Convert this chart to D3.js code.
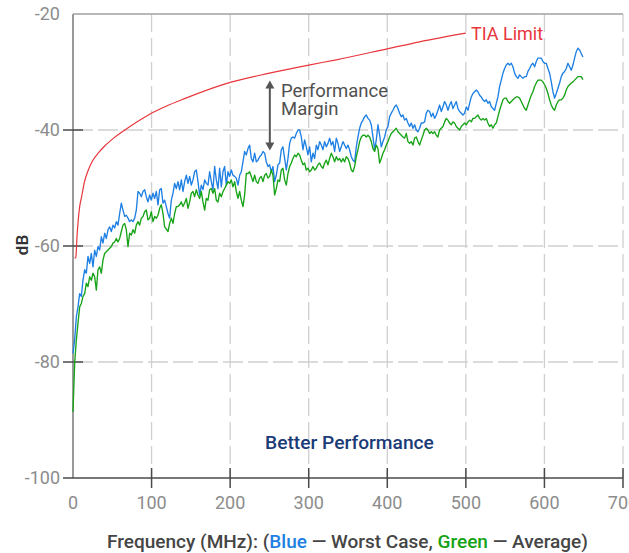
<!DOCTYPE html>
<html>
<head>
<meta charset="utf-8">
<script src="https://cdn.jsdelivr.net/npm/d3@7"></script>
<style>
  html, body { margin: 0; padding: 0; background: #fff; }
  svg { display: block; font-family: Roboto, "Noto Sans", sans-serif; }
</style>
</head>
<body>
<svg id="chart" width="629" height="553"></svg>
<script>
// ---------------- data ----------------
const xTicks = [0, 100, 200, 300, 400, 500, 600, 700];
const yTicks = [-100, -80, -60, -40, -20];

// TIA limit curve (MHz, dB)
const tiaFreq  = [2, 3.6, 4.3, 5.0, 6.7, 8.5, 11, 14.5, 19.5, 25, 32, 40, 49, 66, 96, 117, 142, 200, 250, 300, 335, 400, 441, 500];
const tiaLimit = [-62.1, -62.0, -60.6, -58.6, -55.5, -53.2, -51.5, -49.0, -46.9, -45.3, -44.0, -42.8, -41.7, -40.0, -37.4, -36.0, -34.6, -31.8, -30.2, -28.8, -27.9, -26.0, -24.8, -23.3];

// measured sweeps, uniformly sampled from freqStartMHz to freqStopMHz
const freqStartMHz = 0;
const freqStopMHz = 649;

const worstCase = [
-78.5,
-76.2,-72.2,-70.5,-68.2,-68.7,-65.9,-64.1,-64.7,-61.8,-63.0,-61.3,-63.6,-60.7,-61.8,-60.1,-60.7,-58.4,-59.5,-57.8,-58.7,
-57.2,-56.7,-57.5,-56.4,-56.9,-55.8,-56.4,-54.4,-52.6,-53.8,-54.9,-54.7,-55.2,-55.8,-55.5,-55.8,-55.2,-53.8,-50.6,-50.9,
-51.5,-50.6,-50.3,-51.5,-52.4,-51.2,-52.1,-50.9,-51.8,-50.6,-52.9,-50.3,-50.1,-52.6,
-52.1,-53.2,-54.4,-55.2,-52.1,-50.9,-49.2,-50.1,-48.9,-50.3,-48.6,-50.6,-48.9,-47.8,-49.2,-48.0,-49.5,-48.6,-47.2,-46.9,
-48.9,-51.2,-49.5,-50.3,-48.6,-49.2,-49.5,-47.2,-48.9,-50.3,-46.3,-48.6,-50.1,-46.6,-49.8,-47.2,-46.3,-49.5,-47.2,-48.0,
-46.9,-47.8,-48.0,-48.3,-49.5,-47.8,-47.2,-45.5,-43.7,-44.3,-43.2,-42.6,-44.9,-45.5,-44.0,-45.5,-45.2,-44.6,-44.3,-43.7,
-44.0,-45.5,-46.3,-46.0,-47.2,-46.3,-48.9,-47.8,-46.0,-45.7,-43.4,-42.9,-44.9,-46.9,-44.9,-42.3,-41.4,-41.2,-41.4,-40.6,
-40.0,
-40.0,-41.2,-43.4,-41.7,-42.9,-44.3,-42.9,-45.5,-44.0,-44.9,-42.6,-43.4,-42.0,-42.6,-43.4,-42.0,-42.9,-42.3,-41.4,-42.6,
-42.0,-43.7,-41.4,-42.3,-43.7,-42.9,-42.0,-42.6,-43.2,-42.6,-43.4,-44.6,-45.2,-45.5,-42.9,-41.2,-39.7,-38.8,-38.3,-37.7,
-37.4,-38.0,-38.3,-39.1,-41.2,-43.4,-41.7,-39.1,-40.9,-42.9,-42.0,-41.2,-40.0,-39.4,-37.7,-37.1,-36.6,-36.0,-35.7,-36.3,
-37.1,-37.7,-37.4,-38.3,-38.0,-38.8,-39.4,-38.8,-39.7,-39.1,-40.0,-40.3,-39.7,-38.8,-38.8,-38.6,-37.1,-36.6,-36.8,-37.7,
-37.1,
-38.0,-37.4,-36.6,-35.7,-36.8,-36.0,-35.1,-35.7,-36.6,-35.7,-35.1,-36.3,-35.7,-35.1,-36.3,-36.8,-37.1,-37.4,-37.1,-36.0,
-36.6,-35.4,-34.3,-33.7,-33.4,-33.1,-33.4,-34.0,-34.3,-34.8,-35.1,-34.8,-35.4,-35.1,-36.0,-36.3,-36.6,-35.4,-34.3,-32.5,
-31.4,-30.2,-29.4,-28.8,-28.5,-28.8,-28.5,-29.1,-30.2,-30.8,-31.1,-30.5,-30.8,-31.1,-30.8,-30.8,-29.9,-29.4,-28.8,-28.5,
-29.1,-28.2,-27.6,-27.6,-27.6,-28.2,-28.5,-28.5,-29.4,-30.2,-31.7,-33.4,-34.5,-33.7,-32.8,-31.9,-30.8,-30.2,-29.9,-29.4,
-28.5,-29.1,-29.7,-28.8,-27.6,-26.5,-25.9,-26.2,-26.8,-27.4
];

const average = [
-88.6,
-80.2,-76.2,-73.3,-70.5,-69.9,-68.7,-68.2,-66.4,-67.0,-65.3,-65.9,-64.7,-65.3,-67.6,-64.1,-63.6,-64.7,-62.4,-61.3,-61.0,
-60.7,-60.4,-60.1,-59.5,-59.3,-58.7,-59.3,-58.7,-57.5,-56.4,-56.1,-57.2,-60.1,-57.8,-58.1,-57.2,-57.8,-56.4,-55.8,-56.4,
-55.2,-54.9,-54.1,-53.8,-55.5,-55.2,-54.1,-55.8,-54.9,-55.2,-54.7,-53.5,-52.9,-54.4,
-56.7,-57.1,-57.5,-56.1,-55.2,-56.1,-54.4,-53.2,-53.2,-52.9,-52.4,-53.2,-52.6,-51.8,-53.5,-52.4,-50.9,-50.6,-51.5,-50.3,
-51.2,-51.8,-50.6,-52.4,-53.8,-51.8,-52.1,-50.3,-50.1,-50.9,-50.1,-52.1,-52.4,-50.9,-51.5,-50.6,-50.1,-49.5,-48.9,-49.2,
-48.6,-49.8,-48.9,-50.6,-51.8,-50.6,-52.1,-53.2,-51.2,-47.5,-47.5,-47.2,-48.0,-48.9,-47.8,-48.9,-49.2,-48.3,-48.0,-48.9,
-47.8,-47.5,-48.3,-48.0,-46.9,-47.8,-51.2,-50.1,-48.6,-48.9,-46.9,-46.6,-48.6,-49.5,-47.5,-46.3,-45.7,-44.9,-44.3,-44.6,
-44.0,
-44.3,-45.2,-46.0,-45.7,-46.9,-46.6,-47.2,-46.9,-46.3,-46.9,-46.6,-46.0,-45.7,-46.3,-46.6,-45.7,-45.2,-46.0,-44.9,-44.0,
-44.6,-45.5,-44.6,-45.2,-44.9,-45.5,-44.9,-45.5,-44.6,-44.9,-45.7,-46.9,-47.2,-46.3,-44.6,-43.4,-42.0,-41.2,-40.9,-40.9,
-41.2,-40.9,-41.2,-42.0,-43.2,-43.7,-42.6,-43.2,-45.7,-44.9,-44.0,-43.4,-42.6,-42.0,-41.2,-40.6,-40.3,-40.0,-39.7,-40.3,
-40.6,-40.9,-41.2,-41.4,-40.6,-42.0,-42.3,-42.0,-42.6,-41.4,-41.2,-42.0,-42.6,-41.7,-40.9,-40.0,-39.7,-40.0,-40.6,-40.3,
-40.6,
-40.3,-40.9,-41.2,-40.0,-39.7,-39.4,-38.6,-38.0,-38.3,-38.8,-39.1,-38.6,-38.8,-39.4,-39.7,-40.0,-39.4,-39.1,-38.8,-39.1,
-38.6,-38.3,-38.6,-38.0,-38.0,-37.7,-37.4,-38.0,-38.3,-38.0,-38.3,-38.0,-38.8,-39.4,-39.1,-39.7,-39.1,-38.8,-37.7,-36.6,
-35.7,-34.8,-34.5,-34.5,-35.1,-35.4,-35.1,-34.8,-34.5,-34.3,-34.3,-34.5,-35.1,-35.7,-36.3,-36.6,-35.7,-34.8,-34.0,-33.4,
-32.5,-31.9,-31.4,-31.4,-31.4,-31.7,-32.2,-32.8,-33.7,-34.8,-35.7,-36.3,-36.6,-35.7,-35.1,-34.8,-34.8,-34.5,-34.0,-33.1,
-32.5,-32.2,-31.9,-31.7,-31.4,-31.1,-30.8,-30.8,-30.8,-31.3
];

// ---------------- chart ----------------
const svg = d3.select("#chart");
const x = d3.scaleLinear().domain([0, 700]).range([73, 623]);
const y = d3.scaleLinear().domain([-100, -20]).range([478, 14]);

const nPts = worstCase.length;
const fStep = (freqStopMHz - freqStartMHz) / (nPts - 1);
const sweepFreq = d3.range(nPts).map(i => freqStartMHz + i * fStep);

const gridColor = "#cfcfcf";
const tickColor = "#4a4a4a";
const labelColor = "#8c8c8c";

// vertical grid
svg.append("g").selectAll("line").data(xTicks.filter(d => d > 0)).join("line")
  .attr("x1", d => x(d)).attr("x2", d => x(d))
  .attr("y1", y(-20)).attr("y2", y(-100))
  .attr("stroke", gridColor).attr("stroke-width", 1.3)
  .attr("stroke-dasharray", "18,6");

// horizontal grid
svg.append("g").selectAll("line").data(yTicks.filter(d => d > -100 && d < -20)).join("line")
  .attr("x1", x(0)).attr("x2", x(700))
  .attr("y1", d => y(d)).attr("y2", d => y(d))
  .attr("stroke", gridColor).attr("stroke-width", 1.3)
  .attr("stroke-dasharray", "20,5");

// top border
svg.append("line")
  .attr("x1", x(0)).attr("x2", x(700)).attr("y1", y(-20)).attr("y2", y(-20))
  .attr("stroke", "#a0a0a0").attr("stroke-width", 1.3);

// left axis line
svg.append("line")
  .attr("x1", x(0)).attr("x2", x(0)).attr("y1", y(-20)).attr("y2", y(-100))
  .attr("stroke", "#9a9a9a").attr("stroke-width", 2);

// y ticks
svg.append("g").selectAll("line").data(yTicks.filter(d => d > -100 && d < -20)).join("line")
  .attr("x1", x(0) - 10).attr("x2", x(0) + 10)
  .attr("y1", d => y(d)).attr("y2", d => y(d))
  .attr("stroke", tickColor).attr("stroke-width", 1.5);

// bottom axis line
svg.append("line")
  .attr("x1", x(0) - 10).attr("x2", x(700)).attr("y1", y(-100)).attr("y2", y(-100))
  .attr("stroke", tickColor).attr("stroke-width", 1.5);

// x ticks
svg.append("g").selectAll("line").data(xTicks.filter(d => d > 0)).join("line")
  .attr("x1", d => x(d)).attr("x2", d => x(d))
  .attr("y1", y(-100) - 10).attr("y2", y(-100) + 10)
  .attr("stroke", tickColor).attr("stroke-width", 1.5);

// y tick labels
svg.append("g").selectAll("text").data(yTicks).join("text")
  .attr("x", x(0) - 13).attr("y", d => y(d)).attr("dy", "0.35em")
  .attr("text-anchor", "end").attr("fill", labelColor)
  .attr("font-size", 18).text(d => d);

// x tick labels
svg.append("g").selectAll("text").data(xTicks).join("text")
  .attr("x", d => x(d)).attr("y", y(-100) + 31)
  .attr("text-anchor", "middle").attr("fill", labelColor)
  .attr("font-size", 18).text(d => d);

// lines
const tiaPts = tiaFreq.map((f, i) => [f, tiaLimit[i]]);
svg.append("path").datum(tiaPts)
  .attr("fill", "none").attr("stroke", "#e8363c").attr("stroke-width", 1.2)
  .attr("d", d3.line().x(d => x(d[0])).y(d => y(d[1])).curve(d3.curveMonotoneX));

const line = d3.line().x((d, i) => x(sweepFreq[i])).y(d => y(d));
svg.append("path").datum(worstCase)
  .attr("fill", "none").attr("stroke", "#1f80e3").attr("stroke-width", 1.35)
  .attr("stroke-linejoin", "round").attr("d", line);
svg.append("path").datum(average)
  .attr("fill", "none").attr("stroke", "#17a317").attr("stroke-width", 1.35)
  .attr("stroke-linejoin", "round").attr("d", line);

// annotations
svg.append("text").attr("x", 471).attr("y", 34).attr("dy", "0.35em")
  .attr("fill", "#e8363c").attr("font-size", 18).text("TIA Limit");

const ax = x(250.5), aTop = 80.5, aBot = 150.5;
svg.append("line").attr("x1", ax).attr("x2", ax).attr("y1", aTop + 6).attr("y2", aBot - 6)
  .attr("stroke", "#555").attr("stroke-width", 2);
svg.append("path").attr("d", `M${ax},${aTop} l-4.5,8 h9 z`).attr("fill", "#555");
svg.append("path").attr("d", `M${ax},${aBot} l-4.5,-8 h9 z`).attr("fill", "#555");

svg.append("text").attr("x", 281).attr("y", 97).attr("fill", "#505050")
  .attr("font-size", 18.5).text("Performance");
svg.append("text").attr("x", 281).attr("y", 114.5).attr("fill", "#505050")
  .attr("font-size", 18.5).text("Margin");

const bp = svg.append("text").attr("x", 349.5).attr("y", 442).attr("dy", "0.35em")
  .attr("text-anchor", "middle").attr("fill", "#1b3b78")
  .attr("font-size", 18).attr("font-weight", 500).text("Better Performance");
{
  const w = bp.node().getComputedTextLength();
  if (w > 0) bp.attr("font-size", 18 * 169 / w);
}

// y label
svg.append("text").attr("transform", "translate(28,245) rotate(-90)")
  .attr("text-anchor", "middle").attr("fill", "#333")
  .attr("font-size", 17).attr("font-weight", 600).text("dB");

// x label
const xl = svg.append("text").attr("x", 347.5).attr("y", 547.5)
  .attr("text-anchor", "middle").attr("fill", "#454545")
  .attr("font-size", 18).attr("font-weight", 500);
xl.append("tspan").text("Frequency (MHz): (");
xl.append("tspan").attr("fill", "#1f80e3").text("Blue");
xl.append("tspan").text(" \u2014 Worst Case, ");
xl.append("tspan").attr("fill", "#17a317").text("Green");
xl.append("tspan").text(" \u2014 Average)");
{
  const w = xl.node().getComputedTextLength();
  if (w > 0) xl.attr("font-size", Math.min(20, 18 * 481 / w));
}
</script>
</body>
</html>
